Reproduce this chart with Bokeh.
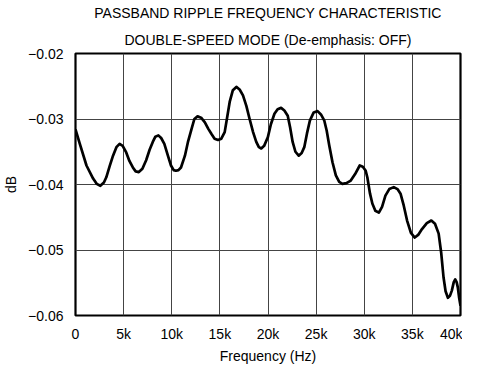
from bokeh.plotting import figure
from bokeh.models import FixedTicker, Title
from bokeh.embed import file_html
from bokeh.resources import INLINE

# Frequency (kHz) and passband ripple (dB)
freq_khz = [0.0, 0.45, 1.14, 1.83, 2.2, 2.58, 2.95, 3.2, 3.55, 3.9, 4.25, 4.58,
            4.9, 5.27, 5.6, 5.96, 6.25, 6.58, 6.95, 7.34, 7.7, 8.03, 8.3, 8.61,
            8.9, 9.23, 9.6, 9.92, 10.2, 10.44, 10.7, 10.96, 11.37, 11.7, 12.06,
            12.35, 12.68, 13.05, 13.44, 13.8, 14.13, 14.45, 14.81, 15.15, 15.5,
            15.75, 16.02, 16.35, 16.71, 17.05, 17.4, 17.75, 18.09, 18.45, 18.78,
            19.05, 19.3, 19.6, 19.98, 20.3, 20.67, 21.0, 21.36, 21.7, 22.05, 22.3,
            22.56, 22.85, 23.19, 23.5, 23.77, 24.05, 24.36, 24.75, 25.15, 25.5,
            25.84, 26.1, 26.36, 26.7, 27.05, 27.4, 27.73, 28.15, 28.6, 29.05,
            29.53, 29.85, 30.15, 30.32, 30.6, 30.84, 31.15, 31.52, 31.85, 32.2,
            32.6, 33.07, 33.45, 33.77, 34.1, 34.45, 34.85, 35.25, 35.6, 36.0,
            36.5, 36.97, 37.35, 37.73, 38.0, 38.24, 38.45, 38.69, 38.9, 39.1,
            39.3, 39.45, 39.6, 39.72, 39.85, 40.0]
ripple_db = [-0.0316, -0.0338, -0.0371, -0.0391, -0.0399, -0.0402, -0.0397, -0.0389,
             -0.0372, -0.0356, -0.0343, -0.0338, -0.0341, -0.0351, -0.0364, -0.0374,
             -0.0380, -0.0381, -0.0376, -0.0363, -0.0347, -0.0335, -0.0327, -0.0325,
             -0.0329, -0.0338, -0.0356, -0.0371, -0.0378, -0.0379, -0.0378, -0.0374,
             -0.0356, -0.0334, -0.0315, -0.0300, -0.0296, -0.0298, -0.0305, -0.0315,
             -0.0323, -0.0330, -0.0332, -0.0330, -0.0320, -0.0298, -0.0274, -0.0256,
             -0.0251, -0.0255, -0.0264, -0.0280, -0.0300, -0.0320, -0.0335, -0.0343,
             -0.0345, -0.0341, -0.0328, -0.0308, -0.0292, -0.0285, -0.0283, -0.0287,
             -0.0295, -0.0313, -0.0335, -0.0350, -0.0356, -0.0352, -0.0343, -0.0322,
             -0.0302, -0.0290, -0.0288, -0.0293, -0.0302, -0.0318, -0.0340, -0.0366,
             -0.0386, -0.0396, -0.0399, -0.0398, -0.0394, -0.0384, -0.0371, -0.0373,
             -0.0379, -0.0389, -0.0414, -0.0429, -0.0440, -0.0443, -0.0434, -0.0417,
             -0.0407, -0.0404, -0.0407, -0.0414, -0.0432, -0.0455, -0.0474, -0.0481,
             -0.0477, -0.0468, -0.0459, -0.0455, -0.0460, -0.0475, -0.0505, -0.0542,
             -0.0563, -0.0573, -0.0570, -0.0562, -0.0549, -0.0545, -0.0549, -0.0557,
             -0.0572, -0.0585]

x_ticks = [0, 5, 10, 15, 20, 25, 30, 35, 40]
x_tick_labels = ["0", "5k", "10k", "15k", "20k", "25k", "30k", "35k", "40k"]
y_ticks = [-0.06, -0.05, -0.04, -0.03, -0.02]
y_tick_labels = ["\u22120.06", "\u22120.05", "\u22120.04", "\u22120.03", "\u22120.02"]

title_1 = "PASSBAND RIPPLE FREQUENCY CHARACTERISTIC"
title_2 = "DOUBLE-SPEED MODE (De-emphasis: OFF)"

FONT = "Liberation Sans"
FS = "14px"

p = figure(frame_width=385, frame_height=262, output_backend="svg",
           toolbar_location=None,
           x_range=(0, 40), y_range=(-0.06, -0.02),
           min_border_left=75, min_border_right=2, min_border_top=0,
           min_border_bottom=0, margin=(0, 0, -10, 0))
p.title.visible = False

t2 = Title(text=title_2, align="center", text_font=FONT, text_font_size=FS,
           text_font_style="normal", text_color="black", standoff=12)
t1 = Title(text=title_1, align="center", text_font=FONT, text_font_size=FS,
           text_font_style="normal", text_color="black", standoff=5)
p.add_layout(t2, "above")
p.add_layout(t1, "above")

p.line(freq_khz, ripple_db, line_color="black", line_width=2.7, line_join="round")

p.xaxis.ticker = FixedTicker(ticks=x_ticks)
p.xaxis.major_label_overrides = {t: l for t, l in zip(x_ticks, x_tick_labels)}
p.yaxis.ticker = FixedTicker(ticks=y_ticks)
p.yaxis.major_label_overrides = {t: l for t, l in zip(y_ticks, y_tick_labels)}

p.xaxis.axis_label = "Frequency (Hz)"
p.yaxis.axis_label = "dB"
for ax in (p.xaxis[0], p.yaxis[0]):
    ax.axis_line_color = None
    ax.major_tick_line_color = None
    ax.minor_tick_line_color = None
    ax.major_tick_out = 0
    ax.major_tick_in = 0
    ax.major_label_text_font = FONT
    ax.major_label_text_font_size = FS
    ax.major_label_text_color = "black"
    ax.axis_label_text_font = FONT
    ax.axis_label_text_font_size = FS
    ax.axis_label_text_font_style = "normal"
    ax.axis_label_text_color = "black"
p.xaxis.major_label_standoff = 10
p.xaxis.axis_label_standoff = 3
p.yaxis.major_label_standoff = 12
p.yaxis.axis_label_standoff = 6

p.xgrid.ticker = FixedTicker(ticks=x_ticks)
p.ygrid.ticker = FixedTicker(ticks=y_ticks)
p.grid.grid_line_color = "#444444"
p.grid.grid_line_width = 1
p.grid.grid_line_alpha = 1

p.outline_line_color = "black"
p.outline_line_width = 2.2
p.background_fill_color = "white"
p.border_fill_color = "white"

open("out.html", "w").write(file_html(p, INLINE))
